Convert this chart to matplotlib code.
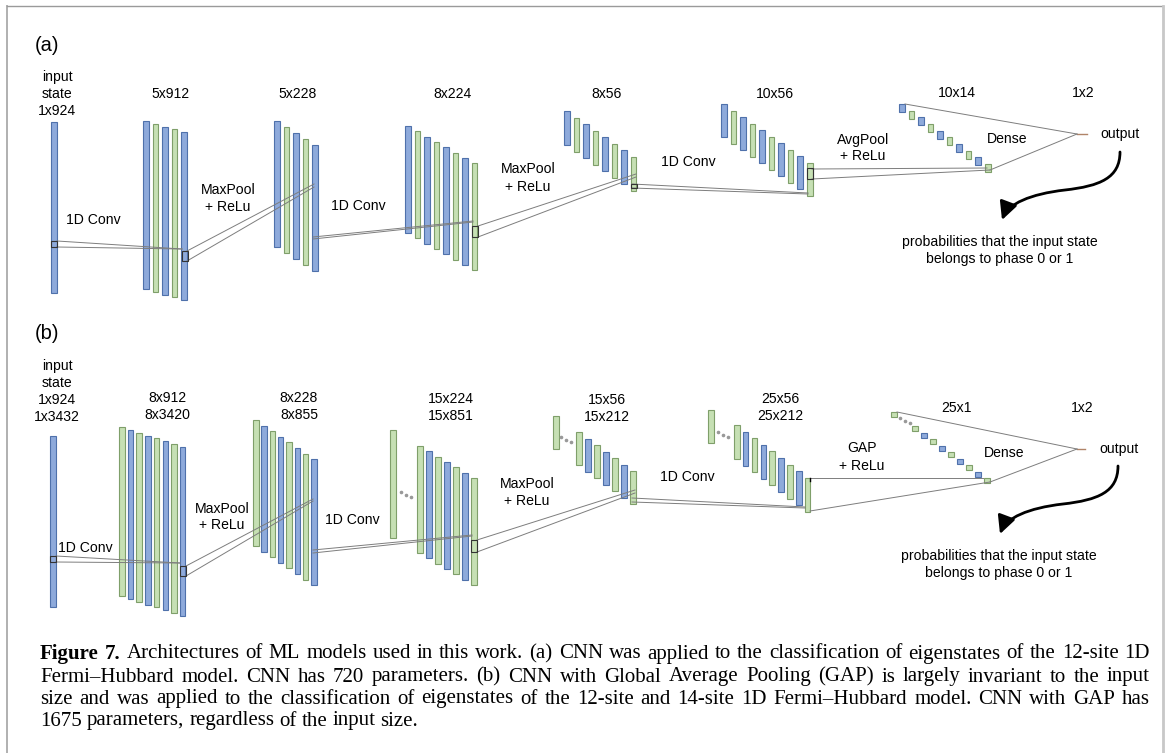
import matplotlib
matplotlib.use("Agg")
import matplotlib.pyplot as plt
from matplotlib.patches import Rectangle, FancyArrowPatch
from matplotlib.path import Path

W, H = 1167, 753
BLUE, BLUE_E = "#8eaadb", "#4f71ab"
GREEN, GREEN_E = "#c6e0b4", "#7f9f6a"
LINE = "#7d7d7d"
SANS = ["Liberation Sans", "DejaVu Sans"]
SERIF = ["Liberation Serif", "DejaVu Serif"]
FS = 10.1

# ---- layer labels / channel colour sequences ----
labels_a = [["input", "state", "1x924"], ["5x912"], ["5x228"], ["8x224"],
            ["8x56"], ["10x56"], ["10x14"], ["1x2"]]
labels_b = [["input", "state", "1x924", "1x3432"], ["8x912", "8x3420"],
            ["8x228", "8x855"], ["15x224", "15x851"], ["15x56", "15x212"],
            ["25x56", "25x212"], ["25x1"], ["1x2"]]
ops_a = [["1D Conv"], ["MaxPool", "+ ReLu"], ["1D Conv"], ["MaxPool", "+ ReLu"],
         ["1D Conv"], ["AvgPool", "+ ReLu"], ["Dense"]]
ops_b = [["1D Conv"], ["MaxPool", "+ ReLu"], ["1D Conv"], ["MaxPool", "+ ReLu"],
         ["1D Conv"], ["GAP", "+ ReLu"], ["Dense"]]
prob_text = ["probabilities that the input state", "belongs to phase 0 or 1"]
caption = [
    "Figure 7. Architectures of ML models used in this work. (a) CNN was applied to the classification of eigenstates of the 12-site 1D",
    "Fermi\u2013Hubbard model. CNN has 720 parameters. (b) CNN with Global Average Pooling (GAP) is largely invariant to the input",
    "size and was applied to the classification of eigenstates of the 12-site and 14-site 1D Fermi\u2013Hubbard model. CNN with GAP has",
    "1675 parameters, regardless of the input size.",
]

fig = plt.figure(figsize=(W / 100, H / 100), dpi=100)
ax = fig.add_axes([0, 0, 1, 1])
ax.set_xlim(0, W)
ax.set_ylim(H, 0)
ax.axis("off")

# frame
ax.plot([7, 7], [6, H], color="#b0b0b0", lw=1.4)
ax.plot([7, 1163], [6, 6], color="#9a9a9a", lw=1.0)
ax.plot([1163, 1163], [6, H], color="#c8c8c8", lw=2.0)


def layer(x0, dx, top0, dtop, h, colors, w=5.5):
    for i, c in enumerate(colors):
        fc, ec = (BLUE, BLUE_E) if c == "B" else (GREEN, GREEN_E)
        ax.add_patch(Rectangle((x0 + i * dx, top0 + i * dtop), w, h,
                               fc=fc, ec=ec, lw=0.8, zorder=2))


def box(x, y, w, h):
    ax.add_patch(Rectangle((x, y), w, h, fc="none", ec="#333333", lw=0.8, zorder=4))


def lines(segs, color=LINE):
    for (x0, y0), (x1, y1) in segs:
        ax.plot([x0, x1], [y0, y1], color=color, lw=0.7, zorder=3)


def dots(x, y):
    ax.plot([x, x + 5, x + 10], [y, y + 2.5, y + 5], ls="none", marker="o",
            ms=1.6, color="#999999", zorder=3)


def label(x, y, txt, pitch=17, size=FS):
    for i, s in enumerate(txt):
        ax.text(x, y + i * pitch, s, ha="center", va="center", fontsize=size,
                family=SANS, zorder=5)


def arrow(x, y):
    rel = [(0, 0), (0, 26), (-20, 34), (-55, 38), (-90, 42), (-112, 52), (-118, 68)]
    verts = [(x + a, y + b) for a, b in rel]
    codes = [Path.MOVETO] + [Path.CURVE4] * 6
    ax.add_patch(FancyArrowPatch(path=Path(verts, codes),
                                 arrowstyle="-|>,head_length=0.9,head_width=0.45",
                                 mutation_scale=12, lw=2.0, color="black",
                                 shrinkA=0, shrinkB=0, zorder=5))


# ================= panel (a) =================
ax.text(35, 45, "(a)", fontsize=14.5, family=SANS, va="center", ha="left")
layer(51, 0, 122, 0, 171, "B")
layer(143, 9.6, 121, 2.75, 168, "BGBGB")
layer(274, 9.5, 121, 6.0, 126, "BGBGB")
layer(405, 9.57, 126, 5.3, 107, "BGBGBGBG")
layer(564, 9.57, 111, 6.57, 34, "BGBGBGBG")
layer(721, 9.56, 104, 6.55, 33, "BGBGBGBGBG")
layer(899, 9.56, 104, 6.67, 8, "BGBGBGBGBG")

box(51, 241, 6, 6)
box(182, 251, 5.5, 10)
box(472, 226, 6, 11)
box(631, 184, 6, 4)
box(807, 168, 5.5, 11)
lines([((57, 241), (182, 249)), ((57, 247), (182, 249)),
       ((187, 251), (314, 184)), ((187, 261), (314, 187)),
       ((313, 237), (473, 221)), ((313, 239), (473, 222)),
       ((478, 226), (636, 174)), ((478, 237), (636, 177)),
       ((632, 184), (808, 193)), ((632, 188), (808, 194)),
       ((812, 169), (987, 168)), ((812, 179), (990, 170)),
       ((905, 104), (1077, 134)), ((990, 170), (1077, 134))])
ax.plot([1077, 1087], [134, 134], color="#b08468", lw=1.0)

for (x, y), t in zip([(57, 77), (170, 94), (298, 94), (452, 94), (607, 94),
                      (775, 94), (957, 93), (1083, 93)], labels_a):
    label(x, y, t)
for (x, y, p), t in zip([(93, 220, 17), (228, 190, 17), (358, 206, 17),
                         (528, 169, 18), (688, 162, 17), (863, 140, 16),
                         (1007, 139, 17)], ops_a):
    label(x, y, t, pitch=p)
label(1120, 134, ["output"])
label(1000, 242, prob_text)
arrow(1120, 152)

# ================= panel (b) =================
ax.text(35, 333, "(b)", fontsize=14.5, family=SANS, va="center", ha="left")
layer(50, 0, 436, 0, 171, "B")
layer(119, 8.7, 427, 2.86, 169, "GBGBGBGB")
layer(253, 8.3, 420, 5.6, 126, "GBGBGBGB")
layer(390, 0, 430, 0, 108, "G")
dots(401, 492)
layer(417, 9.0, 446, 5.33, 107, "GBGBGBG")
layer(553, 0, 416, 0, 33, "G")
dots(561, 437)
layer(576, 9.0, 432, 6.5, 33, "GBGBGBG")
layer(708, 0, 410, 0, 33, "G")
dots(718, 432)
layer(734, 8.86, 425, 6.6, 34, "GBGBGBGBG")
layer(891, 0, 412, 0, 5, "G")
dots(900, 418)
layer(912, 9.0, 426, 6.5, 5, "GBGBGBGBG")

box(50, 556, 6, 6)
box(180, 566, 6, 10)
box(471, 540, 6, 12)
lines([((56, 556), (180, 563)), ((56, 562), (180, 563)),
       ((186, 566), (313, 499)), ((186, 576), (313, 501)),
       ((313, 550), (472, 535)), ((313, 553), (472, 536)),
       ((477, 540), (635, 490)), ((477, 552), (635, 493)),
       ((632, 498), (805, 507)), ((632, 502), (805, 508)),
       ((810, 478), (983, 478)), ((810, 511), (990, 482)),
       ((897, 412), (1077, 449)), ((990, 482), (1077, 449))])
ax.plot([810, 810], [478, 481], color="black", lw=1.0, zorder=4)
ax.plot([1077, 1085], [449, 449], color="#b08468", lw=1.0)

for (x, y), t in zip([(57, 366), (167, 398), (299, 398), (451, 399), (607, 400),
                      (780, 399), (956, 408), (1082, 408)], labels_b):
    label(x, y, t)
for (x, y, p), t in zip([(85, 548, 17), (222, 509, 16), (352, 520, 17),
                         (527, 484, 17), (687, 477, 17), (862, 448, 18),
                         (1004, 453, 17)], ops_b):
    label(x, y, t, pitch=p)
label(1119, 449, ["output"])
label(999, 556, prob_text)
arrow(1118, 466)

# ================= caption (justified) =================
CAP_FS = 15
renderer = fig.canvas.get_renderer()
cap_y = [654, 677, 699, 721]
for li, (line, y) in enumerate(zip(caption, cap_y)):
    words = line.split(" ")
    arts = []
    for wi, wd in enumerate(words):
        bold = li == 0 and wi < 2
        arts.append(ax.text(0, y, wd, fontsize=CAP_FS, family=SERIF, va="center",
                            ha="left", weight="bold" if bold else "normal"))
    widths = [a.get_window_extent(renderer).width for a in arts]
    if li < 3:
        gap = (1150 - 40 - sum(widths)) / (len(words) - 1)
    else:
        gap = 5.0
    x = 40
    for a, wd in zip(arts, widths):
        a.set_x(x)
        x += wd + gap

fig.savefig("out.png", dpi=100)
